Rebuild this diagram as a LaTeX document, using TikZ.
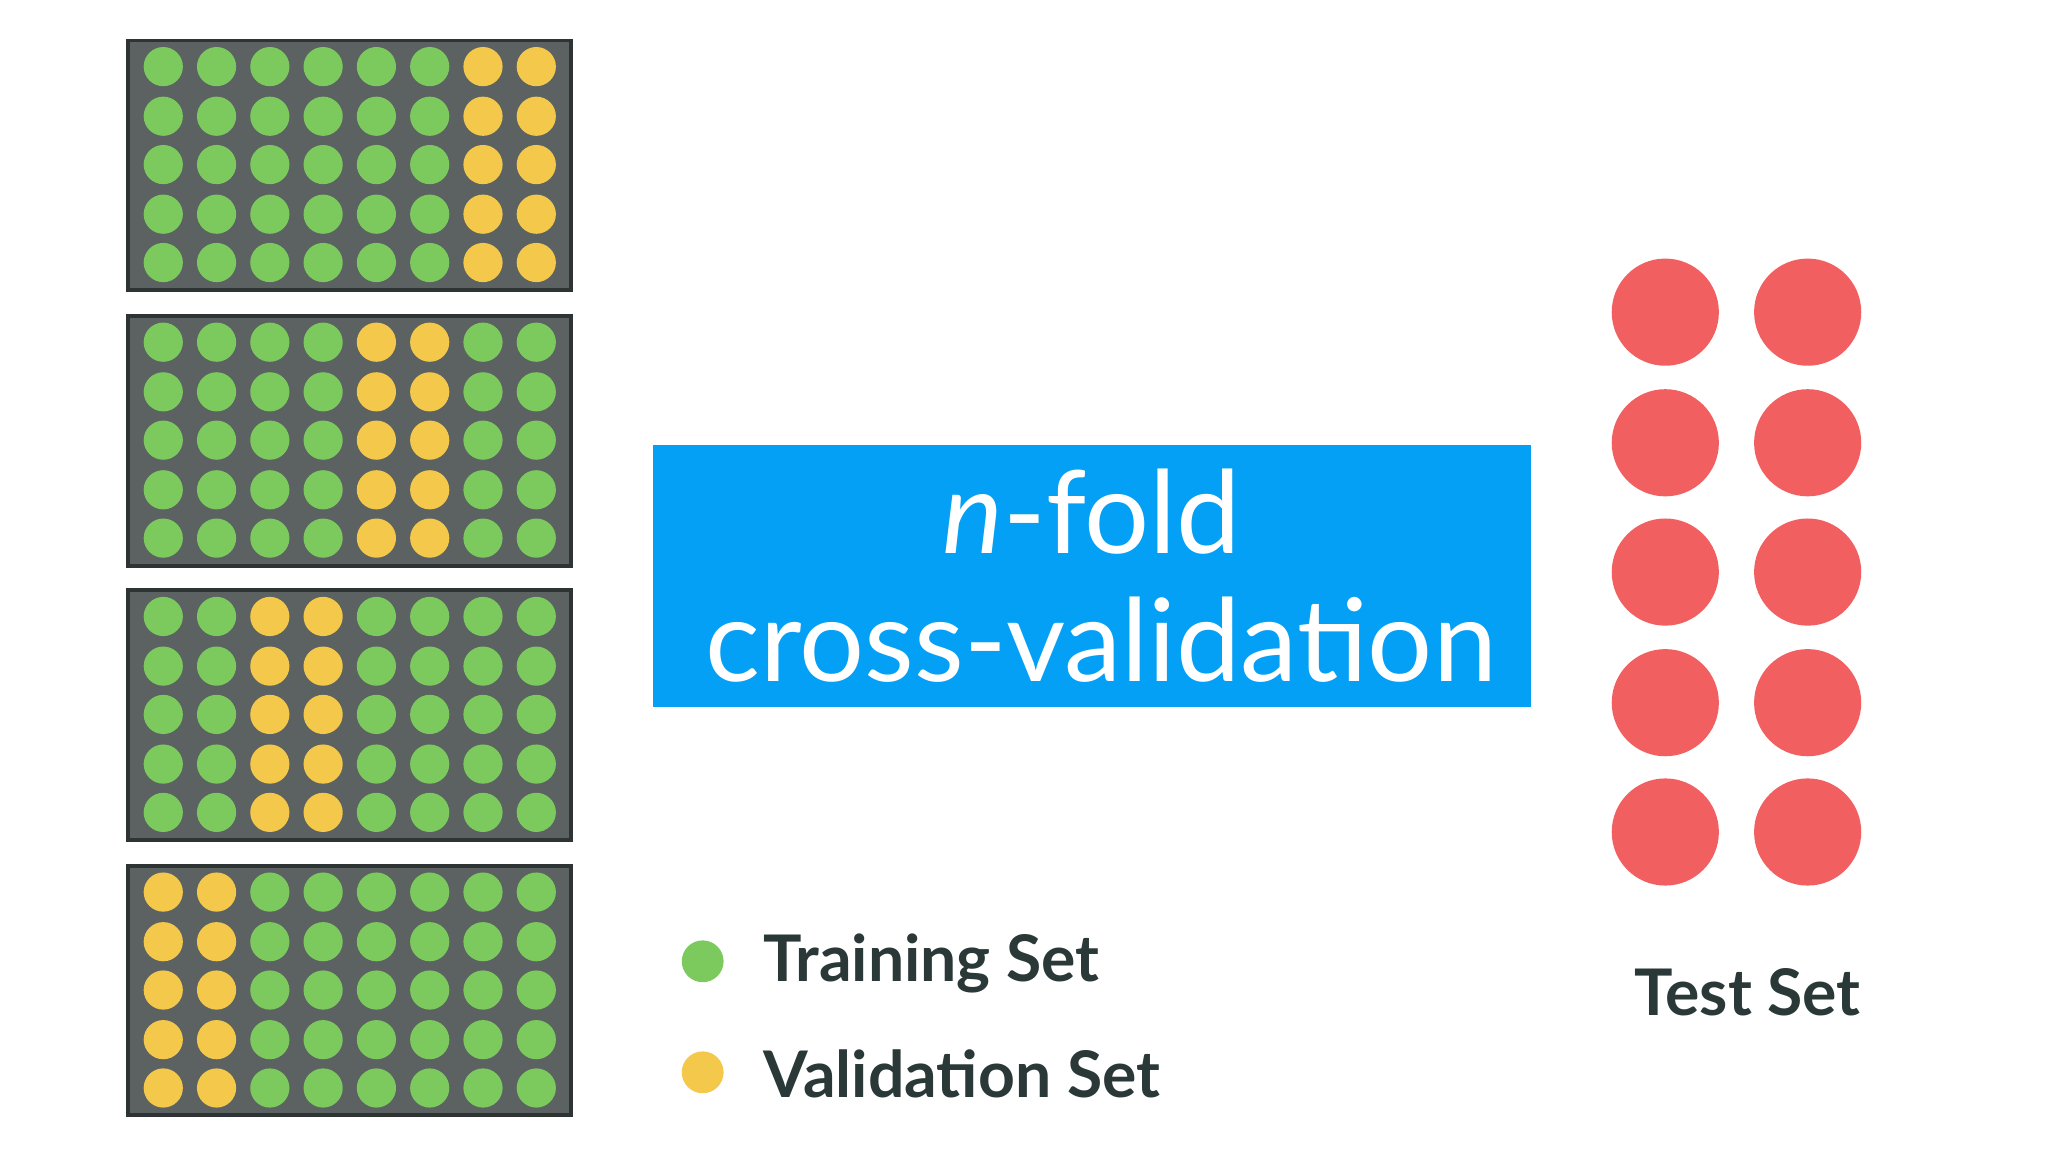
\documentclass[tikz,border=0pt]{standalone}
\usepackage{fontspec}
\setmainfont{Lato}
\definecolor{boxg}{HTML}{5B6261}
\definecolor{boxb}{HTML}{2E3333}
\definecolor{gr}{HTML}{7CC95E}
\definecolor{ye}{HTML}{F4C84A}
\definecolor{bl}{HTML}{03A0F6}
\definecolor{rd}{HTML}{F25F60}
\definecolor{tx}{HTML}{2B3838}
\tikzset{fold/.style={draw=boxb,line width=0.03cm,fill=boxg},
 gdot/.style={circle,fill=gr,minimum size=0.30cm,inner sep=0},
 ydot/.style={circle,fill=ye,minimum size=0.30cm,inner sep=0},
 rdot/.style={circle,fill=rd,minimum size=0.82cm,inner sep=0},
 lbl/.style={text=tx,font=\bfseries\fontsize{14}{16}\selectfont,anchor=west}}
\begin{document}
\begin{tikzpicture}[x=0.01cm,y=-0.01cm]
\useasboundingbox[fill=white] (0,0) rectangle (1568,882);
\foreach \t/\ya/\yb [count=\b] in {31/7/8, 242/5/6, 452/3/4, 663/1/2}{
  \draw[fold] (98,\t) rectangle (437,\t+191);
  \foreach \c in {1,...,8}{
    \foreach \r/\o in {1/20,2/58,3/95,4/133,5/170}{
      \pgfmathtruncatemacro{\isy}{(\c==\ya)||(\c==\yb)}
      \ifnum\isy=1
        \node[ydot] (d\b-\c-\r) at ({125+(\c-1)*40.8},\t+\o) {};
      \else
        \node[gdot] (d\b-\c-\r) at ({125+(\c-1)*40.8},\t+\o) {};
      \fi
    }
  }
}
\fill[bl] (500,341) rectangle (1172,541);
\node[text=white,font=\fontsize{25}{28}\selectfont] (t1) at (836,392) {\textit{n}-fold};
\node[text=white,font=\fontsize{25}{28}\selectfont] (t2) at (843,490) {cross-validation};
\foreach \x [count=\i] in {1275,1384}{
  \foreach \y [count=\j] in {239,339,438,538,637}{
    \node[rdot] (r\i-\j) at (\x,\y) {};
  }
}
\node[gdot,minimum size=0.32cm] (lg) at (538,736) {};
\node[ydot,minimum size=0.32cm] (ly) at (538,821) {};
\node[lbl] (ltr) at (572,738) {Training Set};
\node[lbl] (lva) at (572,822) {Validation Set};
\node[text=tx,font=\bfseries\fontsize{14}{16}\selectfont] (ts) at (1338,760) {Test Set};
\end{tikzpicture}
\end{document}
